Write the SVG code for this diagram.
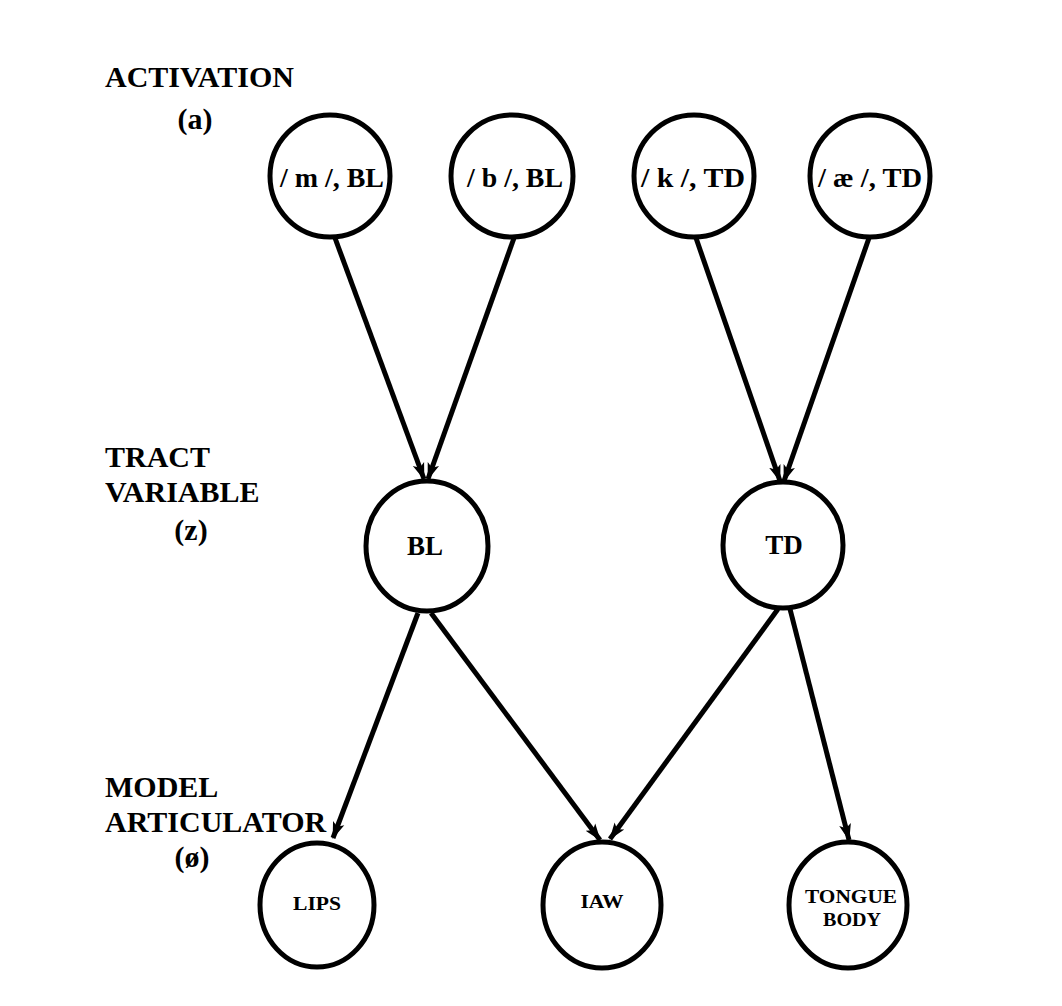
<svg xmlns="http://www.w3.org/2000/svg" width="1062" height="1006" viewBox="0 0 1062 1006">
<style>
  .node { fill: #fff; stroke: #000; stroke-width: 5; }
  .edge { stroke: #000; stroke-width: 5; fill: none; marker-end: url(#arrow); }
  .lbl { font-family: "Liberation Serif", "Times New Roman", serif; font-weight: bold; fill: #000; }
  .side { font-size: 30px; }
  .nt { font-size: 27px; text-anchor: middle; }
  .mt { font-size: 27px; text-anchor: middle; }
  .st { font-size: 19px; text-anchor: middle; }
</style>
<defs>
  <marker id="arrow" markerUnits="userSpaceOnUse" markerWidth="18" markerHeight="18" viewBox="0 0 18 18" refX="16" refY="9" orient="auto">
    <path d="M0,3 L17,9 L0,15 L4,9 Z" fill="#000"/>
  </marker>
</defs>
<rect width="1062" height="1006" fill="#fff"/>

<g id="side-labels" class="lbl side">
  <text x="105" y="87">ACTIVATION</text>
  <text x="195" y="129" text-anchor="middle">(a)</text>
  <text x="105" y="467">TRACT</text>
  <text x="105" y="502">VARIABLE</text>
  <text x="191" y="540" text-anchor="middle">(z)</text>
  <text x="105" y="797">MODEL</text>
  <text x="105" y="832">ARTICULATOR</text>
  <text x="192" y="867" text-anchor="middle">(ø)</text>
</g>

<g id="connectors">
  <line class="edge" x1="335" y1="238" x2="424" y2="479"/>
  <line class="edge" x1="514" y1="238" x2="428" y2="479"/>
  <line class="edge" x1="696" y1="238" x2="780" y2="481"/>
  <line class="edge" x1="869" y1="238" x2="784" y2="481"/>
  <line class="edge" x1="418" y1="613" x2="333" y2="838"/>
  <line class="edge" x1="431" y1="613" x2="600" y2="840"/>
  <line class="edge" x1="778" y1="609" x2="610" y2="839"/>
  <line class="edge" x1="790" y1="609" x2="849" y2="840"/>
</g>

<g id="n-m">
  <ellipse class="node" cx="330" cy="176" rx="60" ry="61"/>
  <text class="lbl nt" x="332" y="187" textLength="104" lengthAdjust="spacingAndGlyphs">/ m /, BL</text>
</g>
<g id="n-b">
  <ellipse class="node" cx="512" cy="176" rx="61" ry="61"/>
  <text class="lbl nt" x="515" y="187" textLength="96" lengthAdjust="spacingAndGlyphs">/ b /, BL</text>
</g>
<g id="n-k">
  <ellipse class="node" cx="694" cy="176" rx="60" ry="61"/>
  <text class="lbl nt" x="693" y="187" textLength="104" lengthAdjust="spacingAndGlyphs">/ k /, TD</text>
</g>
<g id="n-ae">
  <ellipse class="node" cx="870" cy="176" rx="60" ry="61"/>
  <text class="lbl nt" x="870" y="187" textLength="104" lengthAdjust="spacingAndGlyphs">/ æ /, TD</text>
</g>
<g id="n-BL">
  <ellipse class="node" cx="427" cy="546" rx="61" ry="65"/>
  <text class="lbl mt" x="425" y="555">BL</text>
</g>
<g id="n-TD">
  <ellipse class="node" cx="783" cy="545" rx="60" ry="63"/>
  <text class="lbl mt" x="784" y="554">TD</text>
</g>
<g id="n-lips">
  <ellipse class="node" cx="317" cy="905" rx="57" ry="62"/>
  <text class="lbl st" x="317" y="910" textLength="48" lengthAdjust="spacingAndGlyphs">LIPS</text>
</g>
<g id="n-jaw">
  <ellipse class="node" cx="602" cy="905" rx="59" ry="63"/>
  <text class="lbl st" x="602" y="908" textLength="43" lengthAdjust="spacingAndGlyphs">IAW</text>
</g>
<g id="n-tongue">
  <ellipse class="node" cx="848" cy="905" rx="59" ry="63"/>
  <text class="lbl st" x="851" y="903" textLength="92" lengthAdjust="spacingAndGlyphs">TONGUE</text>
  <text class="lbl st" x="852" y="926" textLength="58" lengthAdjust="spacingAndGlyphs">BODY</text>
</g>
</svg>
